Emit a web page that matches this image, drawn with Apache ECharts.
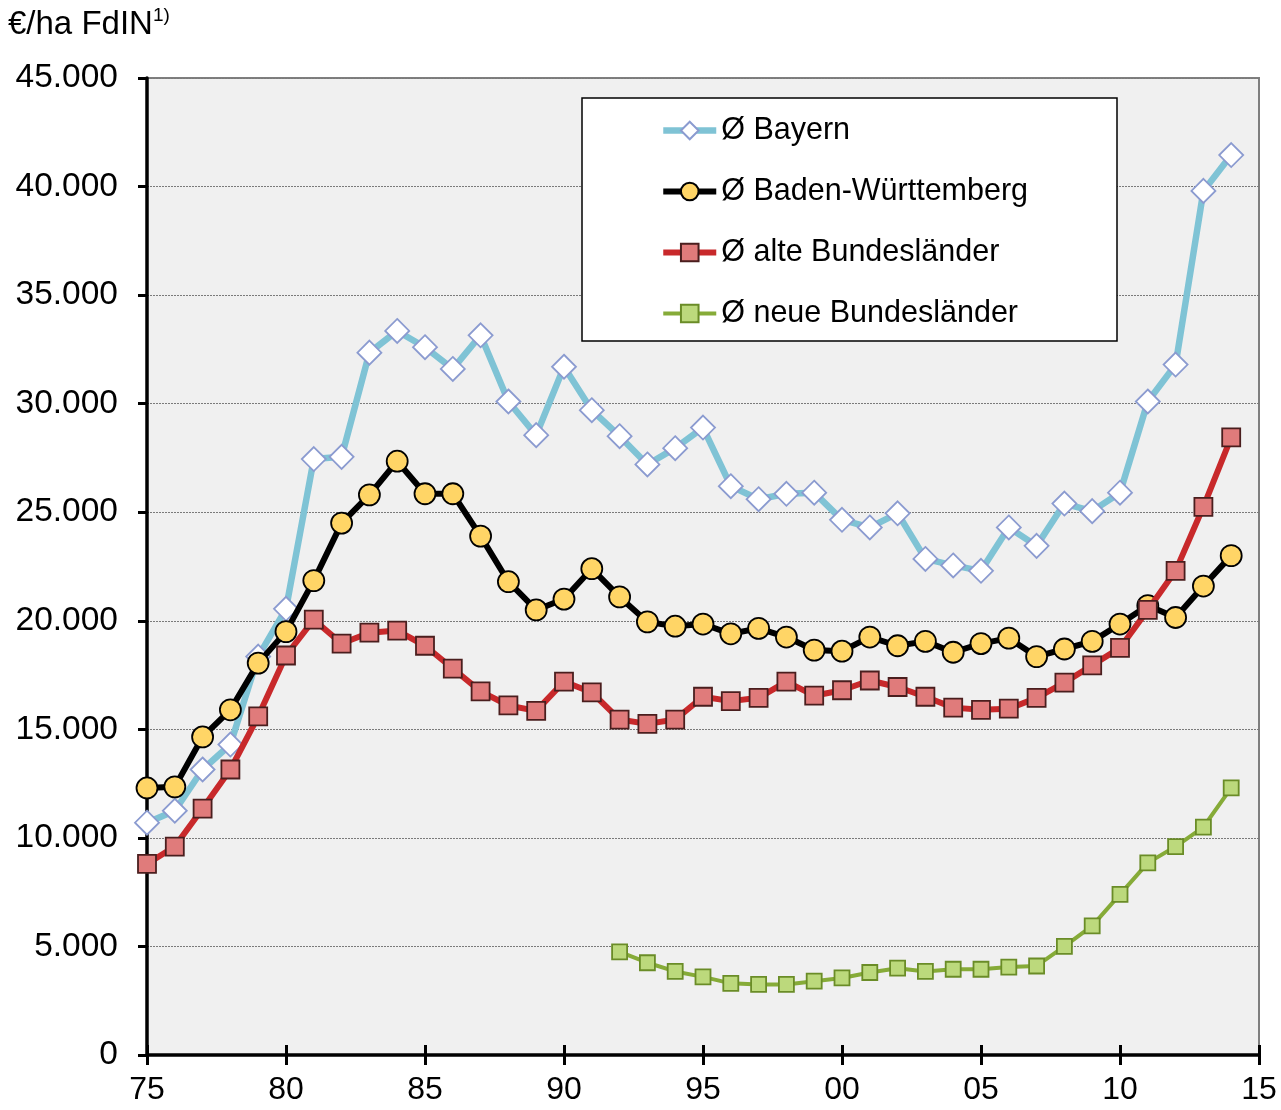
<!DOCTYPE html>
<html>
<head>
<meta charset="utf-8">
<script src="https://cdn.jsdelivr.net/npm/echarts@6/dist/echarts.min.js"></script>
<style>
html,body{margin:0;padding:0;background:#fff;}
#c{width:1281px;height:1110px;}
</style>
</head>
<body>
<div id="c"></div>
<script>
var years = [1975,1976,1977,1978,1979,1980,1981,1982,1983,1984,1985,1986,1987,1988,1989,1990,1991,1992,1993,1994,1995,1996,1997,1998,1999,2000,2001,2002,2003,2004,2005,2006,2007,2008,2009,2010,2011,2012,2013,2014];
var bayern = [10700,11250,13150,14300,18350,20550,27450,27550,32350,33350,32600,31600,33150,30100,28550,31700,29700,28500,27200,27950,28900,26200,25600,25850,25900,24650,24300,24950,22850,22550,22300,24300,23450,25400,25050,25900,30100,31800,39800,41450];
var badenWuerttemberg = [12300,12350,14650,15900,18050,19500,21850,24500,25800,27350,25850,25850,23900,21800,20500,21000,22400,21100,19950,19750,19850,19400,19650,19250,18650,18600,19250,18850,19050,18550,18950,19200,18350,18700,19050,19850,20700,20150,21600,23000];
var alteBL = [8800,9600,11350,13150,15600,18400,20050,18950,19450,19550,18850,17800,16750,16100,15850,17200,16700,15450,15250,15450,16500,16300,16450,17200,16550,16800,17250,16950,16500,16000,15900,15950,16450,17150,17950,18750,20500,22300,25250,28450];
var neueBL = [null,null,null,null,null,null,null,null,null,null,null,null,null,null,null,null,null,4750,4250,3850,3600,3300,3250,3250,3400,3550,3800,4000,3850,3950,3950,4050,4100,5000,5950,7400,8850,9600,10500,12300];
var seriesNames = ['Ø Bayern','Ø Baden-Württemberg','Ø alte Bundesländer','Ø neue Bundesländer'];
var yTicks = [0,5000,10000,15000,20000,25000,30000,35000,40000,45000];

function pairs(vals){
  var out = [];
  for (var i=0;i<years.length;i++){ if (vals[i]!==null) out.push([years[i], vals[i]]); }
  return out;
}
var FONT = "'Liberation Sans', Arial, sans-serif";
var chart = echarts.init(document.getElementById('c'), null, {renderer:'canvas'});
var xBase = {
  type:'value', min:1975, max:2015, interval:5, position:'bottom',
  splitLine:{show:false}
};
chart.setOption({
  animation:false,
  backgroundColor:'#ffffff',
  textStyle:{fontFamily:FONT},
  grid:{left:147,right:22,top:78,bottom:55,show:true,backgroundColor:'#f0f0f0',borderColor:'#7f7f7f',borderWidth:2},
  xAxis:[
    Object.assign({}, xBase, {
      axisLine:{show:true,onZero:false,lineStyle:{color:'#000',width:3.5}},
      axisTick:{show:true,inside:false,length:10,lineStyle:{color:'#000',width:3}},
      axisLabel:{show:true,margin:19,color:'#000',fontSize:32,fontFamily:FONT,
        formatter:function(v){var s=String(v%100);return s.length<2?'0'+s:s;}}
    }),
    Object.assign({}, xBase, {
      axisLine:{show:false},
      axisTick:{show:true,inside:true,length:10,lineStyle:{color:'#000',width:3}},
      axisLabel:{show:false}
    })
  ],
  yAxis:{
    type:'value', min:yTicks[0], max:yTicks[yTicks.length-1], interval:yTicks[1]-yTicks[0],
    axisLine:{show:true,lineStyle:{color:'#000',width:3.5}},
    axisTick:{show:true,inside:false,length:9,lineStyle:{color:'#000',width:3}},
    axisLabel:{color:'#000',fontSize:33.5,fontFamily:FONT,margin:29,
      formatter:function(v){return v===0?'0':(Math.floor(v/1000))+'.'+('000'+(v%1000)).slice(-3);}},
    splitLine:{show:true,lineStyle:{color:'#7a7a7a',width:1,type:[2,1]}}
  },
  legend:{
    orient:'vertical', left:660, top:115, padding:0, itemGap:30, itemWidth:53, itemHeight:22,
    data:seriesNames,
    lineStyle:{width:'inherit'},
    textStyle:{fontSize:30.5,color:'#000',fontFamily:FONT,lineHeight:30},
    z:10
  },
  graphic:[
    {type:'rect', z:5, shape:{x:582,y:98,width:535,height:243}, style:{fill:'#fff',stroke:'#000',lineWidth:1.5}},
    {type:'text', left:8, top:6, z:5, style:{
      text:'{a|€/ha FdIN}{s|1)}',
      rich:{a:{fontSize:33,fontFamily:FONT,fill:'#000',verticalAlign:'bottom'},
            s:{fontSize:19,fontFamily:FONT,fill:'#000',verticalAlign:'top',padding:[0,0,16,0]}}
    }}
  ],
  series:[
    {name:seriesNames[0], type:'line', data:pairs(bayern), xAxisIndex:0,
      lineStyle:{color:'#7fc3d5',width:6.5}, itemStyle:{color:'#ffffff',borderColor:'#8b9bd0',borderWidth:1.8},
      symbol:'diamond', symbolSize:24, showAllSymbol:true, z:2},
    {name:seriesNames[1], type:'line', data:pairs(badenWuerttemberg),
      lineStyle:{color:'#000000',width:6}, itemStyle:{color:'#ffd566',borderColor:'#000',borderWidth:1.8},
      symbol:'circle', symbolSize:21, showAllSymbol:true, z:3},
    {name:seriesNames[2], type:'line', data:pairs(alteBL),
      lineStyle:{color:'#c8292b',width:6}, itemStyle:{color:'#e07b7b',borderColor:'#4a1e1e',borderWidth:1.8},
      symbol:'rect', symbolSize:18, showAllSymbol:true, z:4},
    {name:seriesNames[3], type:'line', data:pairs(neueBL),
      lineStyle:{color:'#86ab38',width:4}, itemStyle:{color:'#bcd97c',borderColor:'#6a8c27',borderWidth:1.8},
      symbol:'rect', symbolSize:15, showAllSymbol:true, z:5}
  ]
});
</script>
</body>
</html>
